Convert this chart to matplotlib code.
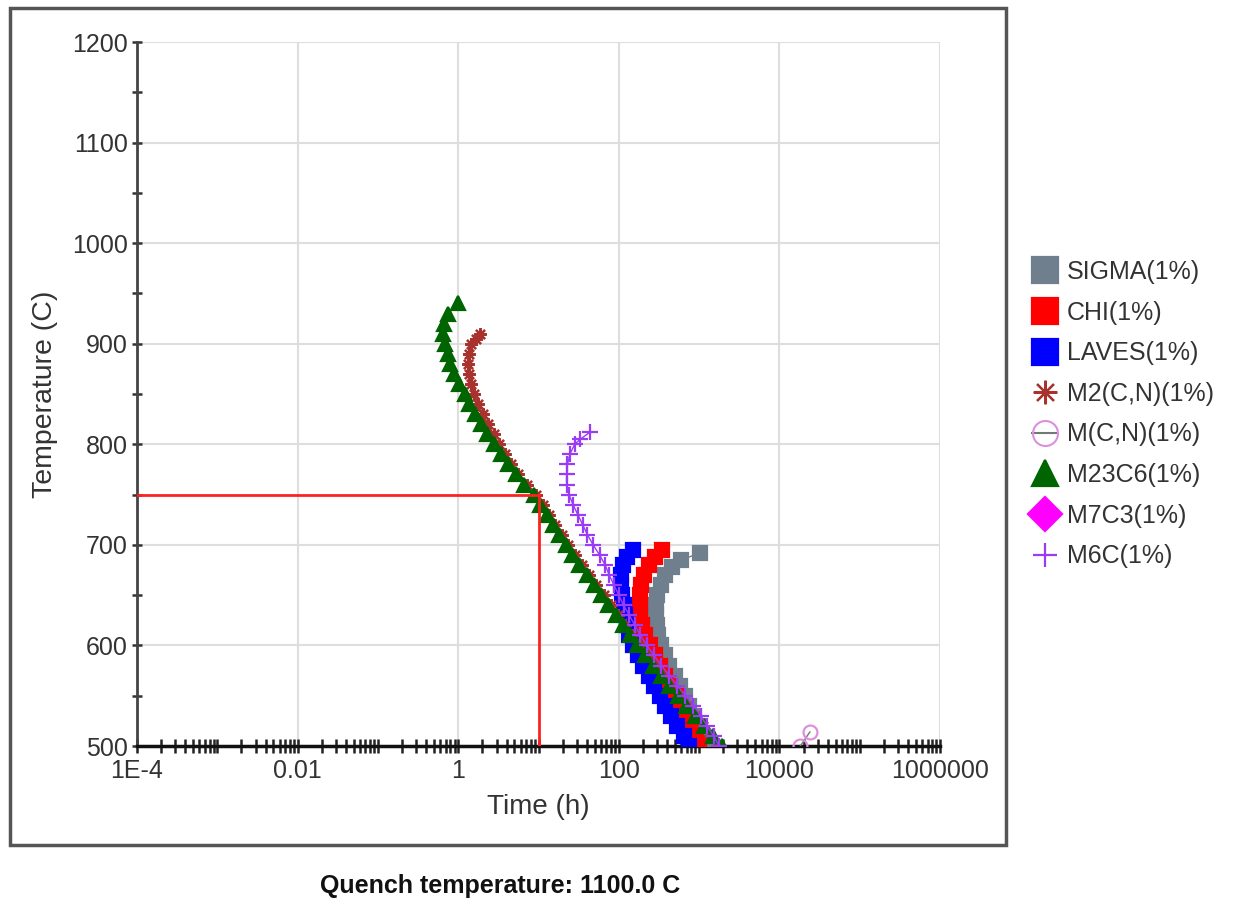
import numpy as np
import matplotlib
matplotlib.use("Agg")
import matplotlib.pyplot as plt
from matplotlib.lines import Line2D
from matplotlib.patches import Rectangle
from matplotlib.ticker import FixedLocator, LogLocator, NullFormatter, MultipleLocator

plt.rcParams['font.family'] = ['Liberation Sans', 'DejaVu Sans']

# ---- TTT data: temperature (C) vs log10(time in hours), 1 % phase fraction ----
sigma_T = [692, 685, 678, 670, 660, 650, 640, 630, 620, 610, 600, 590, 580, 570,
           560, 550, 540, 530, 520, 510, 500]
sigma_logt = [3.01, 2.78, 2.66, 2.58, 2.52, 2.48, 2.46, 2.46, 2.47, 2.49, 2.52, 2.57,
              2.63, 2.70, 2.76, 2.82, 2.88, 2.94, 3.00, 3.05, 3.10]

chi_T = [695, 688, 680, 670, 660, 650, 640, 630, 620, 610, 600, 590, 580, 570,
         560, 550, 540, 530, 520, 510, 500]
chi_logt = [2.54, 2.45, 2.38, 2.32, 2.28, 2.26, 2.26, 2.27, 2.29, 2.33, 2.39, 2.45,
            2.51, 2.58, 2.64, 2.71, 2.77, 2.84, 2.90, 2.96, 3.00]

laves_T = [695, 688, 680, 670, 660, 650, 640, 630, 620, 610, 600, 590, 580, 570,
           560, 550, 540, 530, 520, 510, 500]
laves_logt = [2.18, 2.10, 2.05, 2.03, 2.03, 2.04, 2.06, 2.08, 2.10, 2.13, 2.18, 2.24,
              2.30, 2.37, 2.44, 2.51, 2.58, 2.65, 2.73, 2.81, 2.88]

m2cn_T = [910, 905, 900, 890, 880, 870, 860, 850, 840, 830, 820, 810, 800, 790, 780,
          770, 760, 750, 740, 730, 720, 710, 700, 690, 680, 670, 660, 650, 640, 630,
          620, 610, 600, 590, 580, 570, 560, 550, 540, 530, 520, 510, 500]
m2cn_logt = [0.27, 0.22, 0.16, 0.13, 0.12, 0.13, 0.16, 0.20, 0.25, 0.31, 0.37, 0.44,
             0.51, 0.58, 0.66, 0.75, 0.86, 0.97, 1.05, 1.13, 1.21, 1.29, 1.37, 1.45,
             1.54, 1.63, 1.72, 1.81, 1.90, 1.99, 2.08, 2.17, 2.26, 2.35, 2.45, 2.55,
             2.65, 2.75, 2.85, 2.95, 3.05, 3.14, 3.22]

mcn_T = [514, 500]
mcn_logt = [4.38, 4.26]

m23c6_T = [940, 930, 920, 910, 900, 890, 880, 870, 860, 850, 840, 830, 820, 810, 800,
           790, 780, 770, 760, 750, 740, 730, 720, 710, 700, 690, 680, 670, 660, 650,
           640, 630, 620, 610, 600, 590, 580, 570, 560, 550, 540, 530, 520, 510, 500]
m23c6_logt = [0.00, -0.13, -0.18, -0.19, -0.17, -0.13, -0.10, -0.05, 0.01, 0.08, 0.14,
              0.21, 0.28, 0.36, 0.44, 0.53, 0.62, 0.72, 0.82, 0.94, 1.02, 1.10, 1.18,
              1.26, 1.34, 1.42, 1.51, 1.60, 1.69, 1.78, 1.87, 1.96, 2.05, 2.14, 2.23,
              2.33, 2.43, 2.53, 2.63, 2.74, 2.84, 2.95, 3.06, 3.17, 3.28]

m7c3_T = []
m7c3_logt = []

m6c_T = [812, 805, 800, 790, 780, 770, 760, 750, 740, 730, 720, 710, 700, 690, 680,
         670, 660, 650, 640, 630, 620, 610, 600, 590, 580, 570, 560, 550, 540, 530,
         520, 510, 500]
m6c_logt = [1.64, 1.52, 1.45, 1.39, 1.36, 1.35, 1.35, 1.38, 1.43, 1.49, 1.55, 1.61,
            1.68, 1.76, 1.83, 1.88, 1.94, 2.00, 2.06, 2.13, 2.20, 2.27, 2.35, 2.44,
            2.53, 2.63, 2.73, 2.83, 2.93, 3.02, 3.10, 3.18, 3.25]

# guide lines marking 750 C reached after 10 h
guide_T = 750
guide_time = 10

x_tick_values = [1e-4, 1e-2, 1, 1e2, 1e4, 1e6]
x_tick_labels = ['1E-4', '0.01', '1', '100', '10000', '1000000']
y_ticks = [500, 600, 700, 800, 900, 1000, 1100, 1200]

W, H = 1233, 901
fig = plt.figure(figsize=(W / 100, H / 100), dpi=100)
ax = fig.add_axes([137 / W, 1 - 746 / H, (940 - 137) / W, (746 - 42) / H])

series = [
    dict(label='SIGMA(1%)', T=sigma_T, lt=sigma_logt, color='#6f7f8e', marker='s', ms=9.5, mfc='#6f7f8e'),
    dict(label='CHI(1%)', T=chi_T, lt=chi_logt, color='#ff0000', marker='s', ms=9.5, mfc='#ff0000'),
    dict(label='LAVES(1%)', T=laves_T, lt=laves_logt, color='#0000ff', marker='s', ms=9.5, mfc='#0000ff'),
    dict(label='M2(C,N)(1%)', T=m2cn_T, lt=m2cn_logt, color='#a8322d', marker=(8, 2, 0), ms=9, mfc='#a8322d'),
    dict(label='M(C,N)(1%)', T=mcn_T, lt=mcn_logt, color='#dd8fdd', marker='o', ms=10, mfc='none'),
    dict(label='M23C6(1%)', T=m23c6_T, lt=m23c6_logt, color='#006400', marker='^', ms=10, mfc='#006400'),
    dict(label='M7C3(1%)', T=m7c3_T, lt=m7c3_logt, color='#ff00ff', marker='D', ms=9, mfc='#ff00ff'),
    dict(label='M6C(1%)', T=m6c_T, lt=m6c_logt, color='#9a3cf5', marker='+', ms=11, mfc='#9a3cf5'),
]

# draw back-to-front so the square phases sit under the carbides
order = [0, 1, 2, 4, 3, 5, 7, 6]
for i in order:
    s = series[i]
    t = 10 ** np.asarray(s['lt'], dtype=float)
    line_color = '#707878' if s['label'].startswith('M(C,N)') else s['color']
    ax.plot(t, s['T'], color=line_color, lw=1.0, marker=s['marker'], ms=s['ms'],
            mfc=s['mfc'], mec=s['color'], mew=1.6, zorder=3 + i * 0.1)

ax.plot([1e-4, guide_time], [guide_T, guide_T], color='#ff2020', lw=2, zorder=5)
ax.plot([guide_time, guide_time], [500, guide_T], color='#ff2020', lw=2, zorder=5)

ax.set_xscale('log')
ax.set_xlim(1e-4, 1e6)
ax.set_ylim(500, 1200)

ax.xaxis.set_major_locator(FixedLocator(x_tick_values))
ax.set_xticklabels(x_tick_labels)
ax.xaxis.set_minor_locator(LogLocator(base=10, subs=np.arange(1, 10), numticks=100))
ax.xaxis.set_minor_formatter(NullFormatter())
ax.yaxis.set_major_locator(FixedLocator(y_ticks))
ax.yaxis.set_minor_locator(MultipleLocator(50))

ax.tick_params(axis='x', which='both', direction='inout', length=10, width=1.8,
               color='#222222', labelsize=18, labelcolor='#333333', pad=4)
ax.tick_params(axis='y', which='both', direction='inout', length=7, width=1.8,
               color='#333333', labelsize=18, labelcolor='#333333', pad=3)

ax.grid(True, which='major', color='#dedede', lw=1.5, zorder=0)
ax.set_axisbelow(True)
for side in ('top', 'right'):
    ax.spines[side].set_visible(False)
ax.spines['left'].set_color('#444444')
ax.spines['left'].set_linewidth(2)
ax.spines['bottom'].set_color('#111111')
ax.spines['bottom'].set_linewidth(2.5)

ax.set_xlabel('Time (h)', fontsize=20, color='#333333', labelpad=8)
ax.set_ylabel('Temperature (C)', fontsize=20.5, color='#333333', labelpad=10)

# legend outside the plotting area
handles = []
for s in series:
    if s['label'].startswith('M(C,N)'):
        h = Line2D([], [], color='#707878', lw=1.5, marker='o', ms=18, mfc='none',
                   mec=s['color'], mew=1.5)
    else:
        h = Line2D([], [], ls='none', marker=s['marker'],
                   ms=19 if s['marker'] in ('s', '^') else 17,
                   mfc=s['mfc'], mec=s['color'], mew=1.6)
    handles.append(h)
leg = fig.legend(handles, [s['label'] for s in series], loc='upper left',
                 bbox_to_anchor=(1032 / W, 1 - 260 / H), frameon=False, fontsize=18,
                 handlelength=1.0, handletextpad=0.4, labelspacing=0.665,
                 borderpad=0, borderaxespad=0)
for txt in leg.get_texts():
    txt.set_color('#333333')

fig.text(500 / W, 1 - 886 / H, 'Quench temperature: 1100.0 C', ha='center', va='center',
         fontsize=18, fontweight='bold', color='#111111')

# outer panel frame
fig.patches.append(Rectangle((10 / W, 1 - 845 / H), (1006 - 10) / W, (845 - 8) / H,
                             transform=fig.transFigure, fill=False, edgecolor='#555555',
                             lw=2.5, zorder=10))

fig.savefig('out.png', dpi=100)
